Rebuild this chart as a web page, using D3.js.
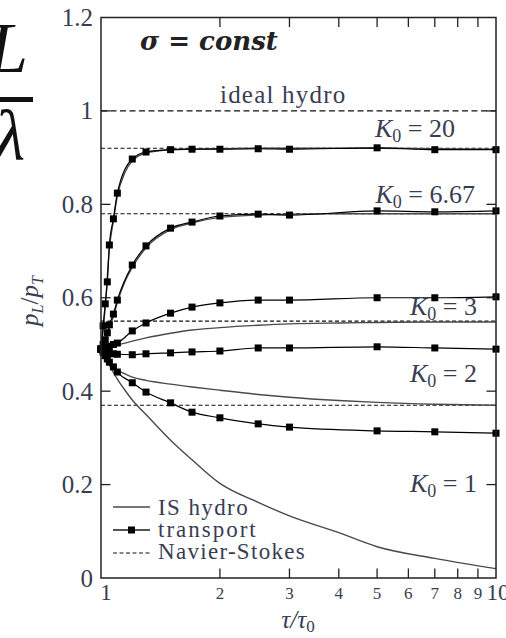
<!DOCTYPE html>
<html>
<head>
<meta charset="utf-8">
<script src="https://cdn.jsdelivr.net/npm/d3@7"></script>
<style>
  html, body { margin: 0; padding: 0; background: #fff; }
  svg { display: block; font-family: "Liberation Serif", "DejaVu Serif", serif; }
</style>
</head>
<body>
<svg id="chart" width="506" height="638"></svg>
<script>
// ---- data: pressure anisotropy p_L/p_T versus tau/tau0 ----
// transport (kinetic theory) results, sampled at these times
const tauTransport = [1, 1.0125, 1.025, 1.0375, 1.05, 1.075, 1.1, 1.2, 1.3, 1.5, 1.7, 2, 2.5, 3, 5, 7, 10];
const transportK20  = [0.49, 0.54, 0.587, 0.634, 0.713, 0.769, 0.824, 0.897, 0.912, 0.917, 0.918, 0.918, 0.919, 0.918, 0.921, 0.917, 0.917];
const transportK667 = [0.49, 0.50, 0.51, 0.525, 0.542, 0.565, 0.595, 0.670, 0.711, 0.749, 0.762, 0.775, 0.779, 0.777, 0.786, 0.784, 0.786];
const transportK3   = [0.49, 0.49, 0.492, 0.494, 0.496, 0.50, 0.503, 0.529, 0.546, 0.567, 0.580, 0.589, 0.595, 0.595, 0.600, 0.600, 0.602];
const transportK2   = [0.49, 0.487, 0.485, 0.483, 0.482, 0.48, 0.479, 0.478, 0.480, 0.482, 0.484, 0.486, 0.4925, 0.4925, 0.495, 0.4925, 0.490];
const transportK1   = [0.49, 0.483, 0.476, 0.469, 0.462, 0.452, 0.441, 0.418, 0.398, 0.375, 0.355, 0.343, 0.330, 0.323, 0.315, 0.313, 0.310];

// Israel-Stewart hydrodynamics
const tauHydro = [1, 1.025, 1.05, 1.075, 1.1, 1.15, 1.2, 1.3, 1.5, 1.7, 2, 2.5, 3, 4, 5, 7, 10];
const hydroK20  = [0.49, 0.58, 0.705, 0.765, 0.818, 0.868, 0.893, 0.91, 0.917, 0.918, 0.919, 0.92, 0.92, 0.92, 0.92, 0.919, 0.918];
const hydroK667 = [0.49, 0.505, 0.535, 0.56, 0.59, 0.635, 0.665, 0.707, 0.746, 0.76, 0.772, 0.777, 0.779, 0.78, 0.78, 0.78, 0.78];
const hydroK3   = [0.49, 0.492, 0.495, 0.497, 0.499, 0.503, 0.507, 0.514, 0.524, 0.531, 0.536, 0.541, 0.544, 0.546, 0.547, 0.548, 0.548];
const hydroK2   = [0.49, 0.475, 0.462, 0.452, 0.445, 0.437, 0.43, 0.423, 0.415, 0.409, 0.402, 0.393, 0.387, 0.38, 0.376, 0.372, 0.37];
const hydroK1   = [0.49, 0.472, 0.456, 0.44, 0.426, 0.402, 0.381, 0.35, 0.295, 0.253, 0.2025, 0.162, 0.133, 0.097, 0.067, 0.042, 0.02];

// asymptotic Navier-Stokes values and ideal hydro
const navierStokes = [0.92, 0.78, 0.55, 0.37];
const idealHydro = 1.0;

// Knudsen-number labels
const kLabels = ["20", "6.67", "3", "2", "1"];

// axis ticks
const xTicks = [1, 2, 3, 4, 5, 6, 7, 8, 9, 10];
const yTicks = [0, 0.2, 0.4, 0.6, 0.8, 1, 1.2];
const yTickLabels = ["0", "0.2", "0.4", "0.6", "0.8", "1", "1.2"];

// ---- drawing ----
(function draw() {
const svg = d3.select("#chart");
const mLeft = 101, mRight = 496, mTop = 17.5, mBottom = 578;
const textColor = "#383d52";

const x = d3.scaleLog().domain([1, 10]).range([mLeft, mRight]);
const y = d3.scaleLinear().domain([0, 1.2]).range([mBottom, mTop]);

// clip curves to the frame
svg.append("defs").append("clipPath").attr("id", "frame")
  .append("rect").attr("x", mLeft).attr("y", mTop)
  .attr("width", mRight - mLeft).attr("height", mBottom - mTop);

const plot = svg.append("g");

// Navier-Stokes limits and ideal hydro
plot.append("line")
  .attr("x1", x(1)).attr("x2", x(10))
  .attr("y1", y(idealHydro)).attr("y2", y(idealHydro))
  .attr("stroke", "#111").attr("stroke-width", 1.2)
  .attr("stroke-dasharray", "6,3.5");

plot.selectAll("line.ns").data(navierStokes).join("line")
  .attr("class", "ns")
  .attr("x1", x(1)).attr("x2", x(10))
  .attr("y1", d => y(d)).attr("y2", d => y(d))
  .attr("stroke", "#111").attr("stroke-width", 1.1)
  .attr("stroke-dasharray", "4,2.5");

const curve = d3.line()
  .x(d => x(d[0])).y(d => y(d[1]))
  .curve(d3.curveMonotoneX);

const zip = (t, v) => t.map((tt, i) => [tt, v[i]]);

// IS hydro curves
const hydroSeries = [hydroK20, hydroK667, hydroK3, hydroK2, hydroK1];
plot.append("g").attr("clip-path", "url(#frame)")
  .selectAll("path").data(hydroSeries).join("path")
  .attr("d", d => curve(zip(tauHydro, d)))
  .attr("fill", "none").attr("stroke", "#4a4a4a").attr("stroke-width", 1.4);

// transport curves with square markers
const transportSeries = [transportK20, transportK667, transportK3, transportK2, transportK1];
const tg = plot.append("g");
tg.selectAll("path").data(transportSeries).join("path")
  .attr("d", d => curve(zip(tauTransport, d)))
  .attr("fill", "none").attr("stroke", "#000").attr("stroke-width", 1.2);

const ms = 7;
transportSeries.forEach(series => {
  tg.append("g").selectAll("rect").data(zip(tauTransport, series)).join("rect")
    .attr("x", d => x(d[0]) - ms / 2).attr("y", d => y(d[1]) - ms / 2)
    .attr("width", ms).attr("height", ms).attr("fill", "#000");
});

// frame
svg.append("rect")
  .attr("x", mLeft).attr("y", mTop)
  .attr("width", mRight - mLeft).attr("height", mBottom - mTop)
  .attr("fill", "none").attr("stroke", "#222").attr("stroke-width", 1.5);

// ticks (pointing inward on all four sides)
const tickLen = 9.5;
const ax = svg.append("g").attr("stroke", "#222").attr("stroke-width", 1.3);
xTicks.slice(1, -1).forEach(t => {
  ax.append("line").attr("x1", x(t)).attr("x2", x(t)).attr("y1", mBottom).attr("y2", mBottom - tickLen);
  ax.append("line").attr("x1", x(t)).attr("x2", x(t)).attr("y1", mTop).attr("y2", mTop + tickLen);
});
yTicks.slice(1, -1).forEach(v => {
  ax.append("line").attr("x1", mLeft).attr("x2", mLeft + tickLen).attr("y1", y(v)).attr("y2", y(v));
  ax.append("line").attr("x1", mRight).attr("x2", mRight - tickLen).attr("y1", y(v)).attr("y2", y(v));
});

// y tick labels
svg.append("g").selectAll("text").data(yTicks).join("text")
  .attr("x", mLeft - 8).attr("y", d => y(d) + 8.5)
  .attr("text-anchor", "end").attr("font-size", 25).attr("fill", textColor)
  .text((d, i) => yTickLabels[i]);

// x tick labels: decade labels larger than the in-between ones
svg.append("g").selectAll("text").data(xTicks).join("text")
  .attr("x", d => d === 1 ? x(d) + 5 : d === 10 ? x(d) + 2 : x(d))
  .attr("y", d => (d === 1 || d === 10) ? 600 : 599)
  .attr("text-anchor", "middle")
  .attr("font-size", d => (d === 1 || d === 10) ? 23 : 17)
  .attr("fill", textColor)
  .text(d => d);

// axis titles
const xt = svg.append("text").attr("x", 298).attr("y", 628)
  .attr("text-anchor", "middle").attr("font-size", 25).attr("fill", textColor);
xt.append("tspan").attr("font-style", "italic").text("τ/τ");
xt.append("tspan").attr("font-size", 17).attr("dy", 4).text("0");

const yt = svg.append("text").attr("transform", "translate(38,301) rotate(-90)")
  .attr("text-anchor", "middle").attr("font-size", 25).attr("fill", textColor);
yt.append("tspan").attr("font-style", "italic").text("p");
yt.append("tspan").attr("font-style", "italic").attr("font-size", 16).attr("dy", 5).text("L");
yt.append("tspan").attr("dy", -5).text("/");
yt.append("tspan").attr("font-style", "italic").text("p");
yt.append("tspan").attr("font-style", "italic").attr("font-size", 16).attr("dy", 5).text("T");

// big fraction L/λ at the top left
svg.append("text").attr("x", -12).attr("y", 72).attr("font-size", 72)
  .attr("font-style", "italic").attr("fill", "#111").text("L");
svg.append("rect").attr("x", 0).attr("y", 97).attr("width", 33).attr("height", 5).attr("fill", "#111");
svg.append("text").attr("x", -6).attr("y", 160).attr("font-size", 72)
  .attr("font-style", "italic").attr("fill", "#111").text("λ");

// heading inside the frame
svg.append("text").attr("x", 140).attr("y", 50)
  .attr("font-family", "'DejaVu Serif', serif")
  .attr("font-size", 26).attr("fill", "#222").attr("font-weight", "bold").attr("font-style", "italic")
  .text("σ = const");

// ideal hydro label
svg.append("text").attr("x", 220).attr("y", 103)
  .attr("font-size", 25).attr("fill", textColor)
  .attr("letter-spacing", 1.2)
  .text("ideal hydro");

// K0 labels, anchored by their right end
const kPos = [[455, 137], [475, 203], [477, 315], [477, 382], [477, 492]];
kLabels.forEach((lab, i) => {
  const t = svg.append("text")
    .attr("x", kPos[i][0]).attr("y", kPos[i][1])
    .attr("text-anchor", "end").attr("font-size", 26).attr("fill", textColor);
  t.append("tspan").attr("font-style", "italic").text("K");
  t.append("tspan").attr("font-size", 18).attr("dy", 5).text("0");
  t.append("tspan").attr("dy", -5).text(" = " + lab);
});

// legend
const lg = svg.append("g").attr("font-size", 23).attr("fill", textColor);
lg.append("line").attr("x1", 113).attr("x2", 150).attr("y1", 507).attr("y2", 507)
  .attr("stroke", "#4a4a4a").attr("stroke-width", 1.4);
lg.append("line").attr("x1", 113).attr("x2", 150).attr("y1", 530).attr("y2", 530)
  .attr("stroke", "#555").attr("stroke-width", 2);
lg.append("rect").attr("x", 131.5 - ms / 2).attr("y", 530 - ms / 2).attr("width", ms).attr("height", ms).attr("fill", "#000");
lg.append("line").attr("x1", 113).attr("x2", 150).attr("y1", 553).attr("y2", 553)
  .attr("stroke", "#111").attr("stroke-width", 1.1).attr("stroke-dasharray", "4,2.5");
lg.append("text").attr("x", 158).attr("y", 515).attr("letter-spacing", 1.4).text("IS hydro");
lg.append("text").attr("x", 158).attr("y", 537).attr("letter-spacing", 2).text("transport");
lg.append("text").attr("x", 158).attr("y", 559).attr("letter-spacing", 1.3).text("Navier-Stokes");
})();
</script>
</body>
</html>
